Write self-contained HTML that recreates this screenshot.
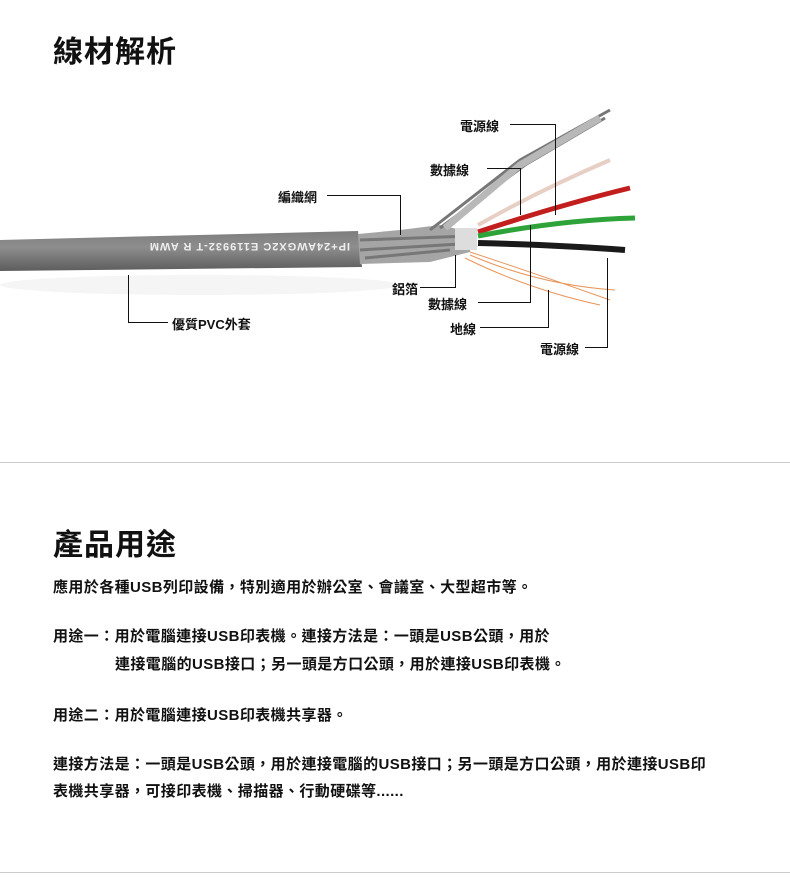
<!DOCTYPE html>
<html><head><meta charset="utf-8"><style>
body{margin:0;width:790px;height:887px;background:#fff;position:relative;overflow:hidden;font-family:"Liberation Sans","Noto Sans CJK TC",sans-serif;color:#111}
.t{position:absolute;white-space:nowrap}
.h{font-size:30px;font-weight:bold;left:53px;letter-spacing:1px}
.p{font-size:15px;font-weight:bold;left:53px;letter-spacing:0.4px}
.l{font-size:13px;font-weight:bold}
</style></head><body>
<div class="t h" style="top:27px">線材解析</div>
<svg class="t" style="left:0;top:0" width="790" height="460">
 <defs><linearGradient id="g" x1="0" y1="0" x2="0" y2="1"><stop offset="0" stop-color="#7d7d7d"/><stop offset=".4" stop-color="#8e8e8e"/><stop offset="1" stop-color="#5d5d5d"/></linearGradient></defs>
 <ellipse cx="200" cy="285" rx="200" ry="10" fill="#f5f5f5"/>
 <path d="M0 240 L358 231 L362 267 L0 271 Z" fill="url(#g)"/>
 <text transform="translate(350,243) rotate(180)" font-family="Liberation Sans" font-size="11" font-weight="bold" fill="#eee" letter-spacing="1">IP+24AWGX2C   E119932-T   R   AWM</text>
 <path d="M358 234 L400 230 L440 225 L470 232 L470 252 L430 262 L360 264 Z" fill="#a5a5a5"/>
 <path d="M360 240 L470 236 M360 250 L460 244 M365 258 L450 250 M430 230 L520 160 L610 110 M440 228 L525 165 L605 118" stroke="#777" stroke-width="3" fill="none"/>
 <path d="M445 228 L520 165 L600 118" stroke="#b8b8b8" stroke-width="7" fill="none"/>
 <rect x="455" y="228" width="22" height="22" fill="#ddd"/>
 <path d="M478 225 Q540 190 610 160" stroke="#e8cfc6" stroke-width="4" fill="none"/>
 <path d="M478 232 Q560 205 630 188" stroke="#c21e1e" stroke-width="5" fill="none"/>
 <path d="M478 236 Q560 220 635 218" stroke="#2da33a" stroke-width="5" fill="none"/>
 <path d="M478 243 Q560 245 625 250" stroke="#1a1a1a" stroke-width="6" fill="none"/>
 <path d="M470 252 Q540 275 610 300 M470 255 Q540 285 615 290 M465 258 Q530 290 600 305" stroke="#e8955a" stroke-width="1" fill="none"/>
 <g stroke="#111" stroke-width="1" fill="none">
  <path d="M510 124.5H555.5V215"/>
  <path d="M487 168.5H520.5V215"/>
  <path d="M327 195.5H400.5V235"/>
  <path d="M420 287.5H455.5V255"/>
  <path d="M478 302.5H530.5V225"/>
  <path d="M480 327.5H548.5V290"/>
  <path d="M585 347.5H607.5V258"/>
  <path d="M168 322.5H128.5V275"/>
 </g>
</svg>
<div class="t l" style="left:460px;top:116px">電源線</div>
<div class="t l" style="left:430px;top:160px">數據線</div>
<div class="t l" style="left:278px;top:187px">編織網</div>
<div class="t l" style="left:392px;top:279px">鋁箔</div>
<div class="t l" style="left:428px;top:294px">數據線</div>
<div class="t l" style="left:450px;top:319px">地線</div>
<div class="t l" style="left:540px;top:339px">電源線</div>
<div class="t l" style="left:172px;top:314px">優質PVC外套</div>
<div class="t" style="left:0;top:462px;width:790px;height:1px;background:#ccc"></div>
<div class="t h" style="top:520px">產品用途</div>
<div class="t p" style="top:576px">應用於各種USB列印設備，特別適用於辦公室、會議室、大型超市等。</div>
<div class="t p" style="top:625px">用途一：用於電腦連接USB印表機。連接方法是：一頭是USB公頭，用於</div>
<div class="t p" style="top:653px;left:115px">連接電腦的USB接口；另一頭是方口公頭，用於連接USB印表機。</div>
<div class="t p" style="top:704px">用途二：用於電腦連接USB印表機共享器。</div>
<div class="t p" style="top:753px">連接方法是：一頭是USB公頭，用於連接電腦的USB接口；另一頭是方口公頭，用於連接USB印</div>
<div class="t p" style="top:780px">表機共享器，可接印表機、掃描器、行動硬碟等......</div>
<div class="t" style="left:0;top:872px;width:790px;height:1px;background:#ccc"></div>
</body></html>
